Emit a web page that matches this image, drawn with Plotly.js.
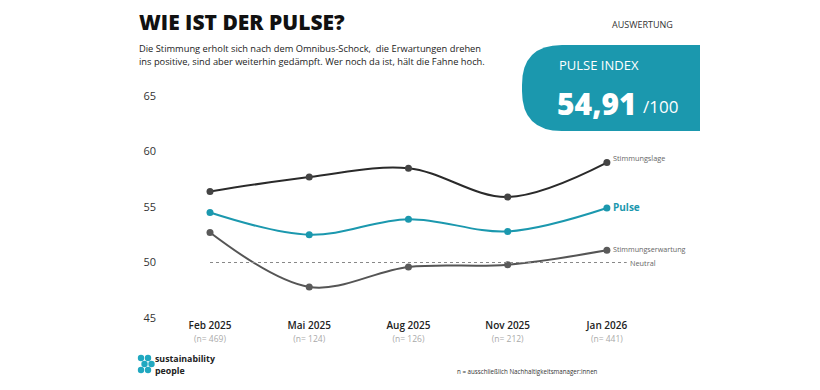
<!DOCTYPE html>
<html><head><meta charset="utf-8">
<script src="https://cdn.plot.ly/plotly-3.0.1.min.js"></script>
<style>html,body{margin:0;padding:0;background:#fff}#chart{width:820px;height:390px}</style>
</head><body><div id="chart"></div>
<script>
const periods = ["Feb 2025","Mai 2025","Aug 2025","Nov 2025","Jan 2026"];
const sampleSizes = ["(n= 469)","(n= 124)","(n= 126)","(n= 212)","(n= 441)"];
const stimmungslage = [56.4, 57.7, 58.5, 55.9, 59.0];
const pulse = [54.5, 52.5, 53.9, 52.8, 54.91];
const stimmungserwartung = [52.7, 47.8, 49.6, 49.8, 51.1];
const neutral = 50;
const yTicks = [45, 50, 55, 60, 65];
const pulseIndex = "54,91";

const FONT = "Open Sans, Lato, sans-serif";
const TEAL = "#1b98ae";
const idx = periods.map((_, i) => i);

// plot area in pixels: x 160..720, y 96..318
const PL = 160, PW = 560, PT = 96, PH = 222;
const px = v => (v - PL) / PW;
const py = v => (PT + PH - v) / PH;

const traces = [
  {x: idx, y: stimmungslage, mode: "lines+markers", line: {color: "#2a2a2a", width: 2, shape: "spline", smoothing: 1},
   marker: {color: "#444", size: 7}, hoverinfo: "skip"},
  {x: idx, y: pulse, mode: "lines+markers", line: {color: TEAL, width: 2, shape: "spline", smoothing: 1},
   marker: {color: TEAL, size: 7}, hoverinfo: "skip"},
  {x: idx, y: stimmungserwartung, mode: "lines+markers", line: {color: "#555", width: 2, shape: "spline", smoothing: 1},
   marker: {color: "#5a5a5a", size: 7}, hoverinfo: "skip"}
];

const ticktext = periods.map((p, i) =>
  `${p}<br><span style="font-size:8.5px;color:#aaa;font-weight:400">${sampleSizes[i]}</span>`);

// Rounded-left box path
const bx0 = 522, bx1 = 700, by0 = 45, by1 = 131, r = 40;
const boxPath = `M ${px(bx1)} ${py(by0)} L ${px(bx0 + r)} ${py(by0)} ` +
  `Q ${px(bx0)} ${py(by0)} ${px(bx0)} ${py(by0 + r)} L ${px(bx0)} ${py(by1 - r)} ` +
  `Q ${px(bx0)} ${py(by1)} ${px(bx0 + r)} ${py(by1)} L ${px(bx1)} ${py(by1)} Z`;

const shapes = [
  {type: "line", xref: "x", yref: "y", x0: 0, x1: 4.2, y0: neutral, y1: neutral,
   line: {color: "#888", width: 1, dash: "dot"}},
  {type: "path", xref: "paper", yref: "paper", path: boxPath, fillcolor: TEAL, line: {width: 0}, layer: "below"}
];
// logo dots
const dots = [[141,358],[148,358],[144.5,364],[151.5,364],[141,370],[148,370]];
dots.forEach(d => shapes.push({type: "circle", xref: "paper", yref: "paper",
  x0: px(d[0]-3.2), x1: px(d[0]+3.2), y0: py(d[1]+3.2), y1: py(d[1]-3.2),
  fillcolor: "#20a8c0", line: {width: 0}}));

const ann = (x, y, text, size, color, extra) => Object.assign({
  xref: "paper", yref: "paper", x: px(x), y: py(y), text, showarrow: false,
  xanchor: "left", yanchor: "middle", font: {family: FONT, size, color}}, extra || {});

const annotations = [
  ann(137, 22, "WIE IST DER PULSE?", 21, "#111", {font: {family: FONT, size: 21, color: "#111", weight: 800}}),
  ann(137, 48, "Die Stimmung erholt sich nach dem Omnibus-Schock,  die Erwartungen drehen", 9.3, "#222"),
  ann(137, 61, "ins positive, sind aber weiterhin gedämpft. Wer noch da ist, hält die Fahne hoch.", 9.3, "#222"),
  ann(610, 25, "AUSWERTUNG", 9, "#333"),
  ann(557, 65, "PULSE INDEX", 13, "#fff"),
  ann(555, 103, pulseIndex, 30, "#fff", {font: {family: FONT, size: 30, color: "#fff", weight: 800}}),
  ann(641, 106, "/100", 17, "#fff"),
  ann(153, 359, "sustainability", 8.8, "#222", {font: {family: FONT, size: 8.8, color: "#222", weight: 700}}),
  ann(153, 370, "people", 8.8, "#222", {font: {family: FONT, size: 8.8, color: "#222", weight: 700}, yshift: -1}),
  ann(455, 371, "n = ausschließlich Nachhaltigkeitsmanager:innen", 6.2, "#333"),
  {xref: "x", yref: "y", x: 4, y: stimmungslage[4], text: "Stimmungslage", showarrow: false,
   xanchor: "left", yanchor: "bottom", xshift: 4, yshift: -2, font: {family: FONT, size: 7.3, color: "#666"}},
  {xref: "x", yref: "y", x: 4, y: pulse[4], text: "<b>Pulse</b>", showarrow: false,
   xanchor: "left", yanchor: "middle", xshift: 4, yshift: 1, font: {family: FONT, size: 10, color: TEAL}},
  {xref: "x", yref: "y", x: 4, y: stimmungserwartung[4], text: "Stimmungserwartung", showarrow: false,
   xanchor: "left", yanchor: "middle", xshift: 4, yshift: 1, font: {family: FONT, size: 7.2, color: "#666"}},
  {xref: "x", yref: "y", x: 4.2, y: neutral, text: "Neutral", showarrow: false,
   xanchor: "left", yanchor: "middle", xshift: 1, font: {family: FONT, size: 7.3, color: "#666"}}
];

const layout = {
  width: 820, height: 390,
  margin: {l: PL, r: 820 - PL - PW, t: PT, b: 390 - PT - PH},
  paper_bgcolor: "#fff", plot_bgcolor: "#fff",
  showlegend: false,
  font: {family: FONT, color: "#333"},
  xaxis: {range: [-0.504, 5.14], tickvals: idx, ticktext: ticktext, showgrid: false, zeroline: false,
          showline: false, ticks: "", tickfont: {family: FONT, size: 10, color: "#222", weight: 600}, fixedrange: true},
  yaxis: {range: [45, 65], tickvals: yTicks, showgrid: false, zeroline: false, showline: false,
          ticks: "", ticklabelstandoff: 3, tickfont: {family: FONT, size: 11, color: "#333"}, fixedrange: true},
  shapes, annotations
};

Plotly.newPlot("chart", traces, layout, {displayModeBar: false, staticPlot: true});
</script></body></html>
